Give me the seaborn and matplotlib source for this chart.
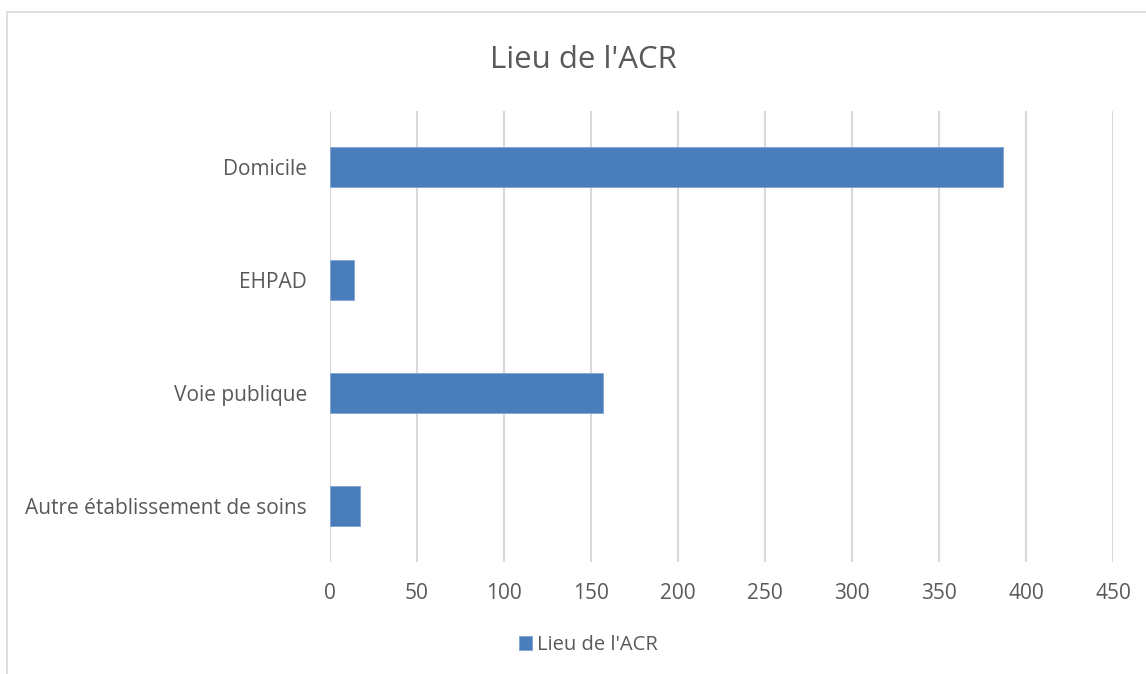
import matplotlib
matplotlib.use("Agg")
import matplotlib.pyplot as plt
import seaborn as sns
import pandas as pd
from matplotlib.patches import Rectangle

# data
categories = ["Domicile", "EHPAD", "Voie publique", "Autre établissement de soins"]
counts = [387, 14, 157, 17]
x_ticks = [0, 50, 100, 150, 200, 250, 300, 350, 400, 450]
series_name = "Lieu de l'ACR"

df = pd.DataFrame({"lieu": categories, "n": counts})

sns.set_theme(style="white")
plt.rcParams["font.family"] = ["Open Sans", "DejaVu Sans"]
text_col = "#595959"
bar_col = "#4A7EBB"

fig = plt.figure(figsize=(11.46, 6.74), dpi=100)
W, H = 1146, 674
ax = fig.add_axes([330 / W, (H - 562) / H, (1113 - 330) / W, (562 - 111) / H])

sns.barplot(data=df, x="n", y="lieu", color=bar_col, width=0.355, ax=ax,
            label=series_name, edgecolor="#7FA3D3", linewidth=0.6, saturation=1)

ax.set_xlim(0, 450)
ax.set_ylim(3.5, -0.5)
ax.set_xticks(x_ticks)
ax.set_xticklabels([str(t) for t in x_ticks])
ax.xaxis.grid(True, color="#d9d9d9", linewidth=1.5)
ax.set_axisbelow(True)
for s in ax.spines.values():
    s.set_visible(False)
ax.set_xlabel("")
ax.set_ylabel("")
ax.tick_params(axis="both", length=0, labelsize=15, colors=text_col)
ax.tick_params(axis="x", pad=15)
ax.tick_params(axis="y", pad=16.5)

fig.text(583 / W, 1 - 60 / H, series_name, ha="center", va="center",
         fontsize=22.5, color=text_col)

leg = ax.legend(loc="center", bbox_to_anchor=(588 / W, 1 - 645 / H),
                bbox_transform=fig.transFigure, frameon=False,
                handlelength=0.65, handleheight=0.65, handletextpad=0.25,
                fontsize=14.5)
for t in leg.get_texts():
    t.set_color(text_col)

# chart area border
fig.patches.append(Rectangle((7 / W, -0.1), 1.2, 1 - 12 / H + 0.1,
                             transform=fig.transFigure, fill=False,
                             edgecolor="#d9d9d9", linewidth=1.2))

fig.savefig("out.png", dpi=100, facecolor="white")
